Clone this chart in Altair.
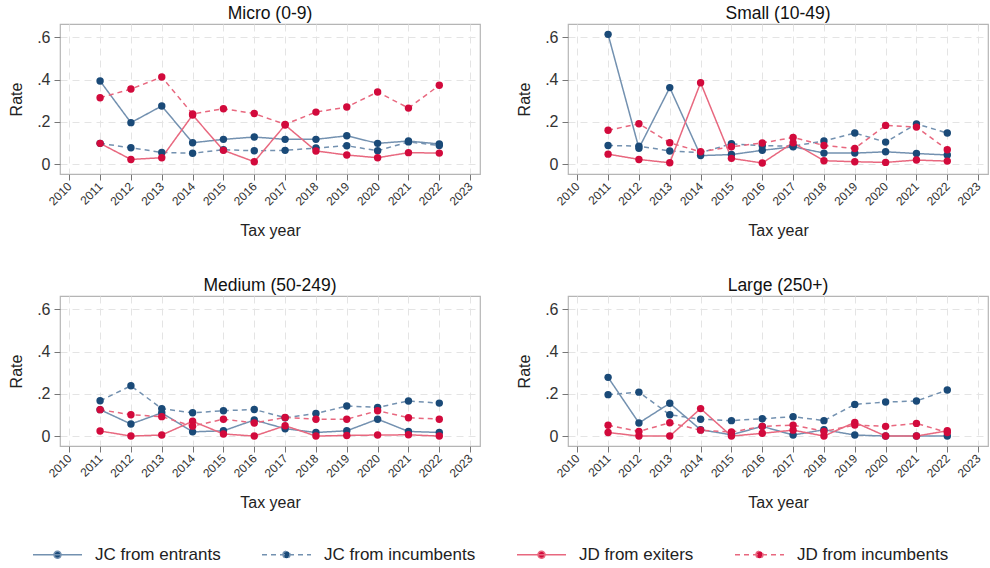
import altair as alt
import pandas as pd

years = list(range(2011, 2023))
panels = ["Micro (0-9)", "Small (10-49)", "Medium (50-249)", "Large (250+)"]
series = ["JC from entrants", "JC from incumbents", "JD from exiters", "JD from incumbents"]

micro_jc_ent = [0.393, 0.196, 0.275, 0.101, 0.117, 0.128, 0.117, 0.117, 0.134, 0.098, 0.109, 0.095]
micro_jc_inc = [0.098, 0.077, 0.055, 0.051, 0.068, 0.063, 0.065, 0.076, 0.087, 0.063, 0.105, 0.088]
micro_jd_exi = [0.098, 0.022, 0.030, 0.232, 0.065, 0.011, 0.185, 0.062, 0.043, 0.030, 0.054, 0.052]
micro_jd_inc = [0.314, 0.355, 0.412, 0.237, 0.262, 0.239, 0.188, 0.246, 0.270, 0.341, 0.265, 0.373]

small_jc_ent = [0.614, 0.075, 0.362, 0.040, 0.045, 0.065, 0.082, 0.052, 0.052, 0.058, 0.050, 0.043]
small_jc_inc = [0.088, 0.085, 0.062, 0.054, 0.096, 0.087, 0.085, 0.109, 0.147, 0.104, 0.190, 0.147]
small_jd_exi = [0.047, 0.022, 0.006, 0.385, 0.027, 0.005, 0.101, 0.016, 0.011, 0.008, 0.019, 0.014]
small_jd_inc = [0.160, 0.191, 0.101, 0.058, 0.082, 0.100, 0.126, 0.088, 0.074, 0.183, 0.175, 0.068]

medium_jc_ent = [0.125, 0.057, 0.110, 0.020, 0.025, 0.076, 0.035, 0.017, 0.025, 0.080, 0.022, 0.017]
medium_jc_inc = [0.167, 0.238, 0.130, 0.110, 0.120, 0.126, 0.087, 0.107, 0.142, 0.136, 0.166, 0.156]
medium_jd_exi = [0.024, 0.000, 0.005, 0.070, 0.010, 0.000, 0.049, 0.000, 0.003, 0.005, 0.006, 0.000]
medium_jd_inc = [0.125, 0.101, 0.092, 0.047, 0.080, 0.062, 0.088, 0.080, 0.080, 0.120, 0.087, 0.080]

large_jc_ent = [0.278, 0.062, 0.155, 0.030, 0.006, 0.046, 0.005, 0.030, 0.005, 0.000, 0.000, 0.000]
large_jc_inc = [0.196, 0.208, 0.101, 0.080, 0.073, 0.082, 0.092, 0.073, 0.150, 0.161, 0.166, 0.218]
large_jd_exi = [0.017, 0.000, 0.000, 0.130, 0.000, 0.013, 0.028, 0.000, 0.065, 0.000, 0.000, 0.025]
large_jd_inc = [0.051, 0.022, 0.063, 0.028, 0.019, 0.046, 0.052, 0.022, 0.052, 0.046, 0.060, 0.017]

values = {
    "Micro (0-9)": [micro_jc_ent, micro_jc_inc, micro_jd_exi, micro_jd_inc],
    "Small (10-49)": [small_jc_ent, small_jc_inc, small_jd_exi, small_jd_inc],
    "Medium (50-249)": [medium_jc_ent, medium_jc_inc, medium_jd_exi, medium_jd_inc],
    "Large (250+)": [large_jc_ent, large_jc_inc, large_jd_exi, large_jd_inc],
}

rows = []
for p in panels:
    for s, vals in zip(series, values[p]):
        for yr, v in zip(years, vals):
            rows.append({"panel": p, "series": s, "year": yr, "value": v})
df = pd.DataFrame(rows)

FONT = "Liberation Sans"
BLUE = "#1a4a78"
RED = "#d20a3c"
colors = [BLUE, BLUE, RED, RED]
line_colors = ["#7391b0", "#7391b0", "#e8687f", "#e8687f"]
dashes = [[1, 0], [5, 4], [1, 0], [5, 4]]

legend = alt.Legend(
    title=None,
    orient="none",
    legendX=-28,
    legendY=522,
    direction="horizontal",
    symbolType="M-3.5,0L3.5,0M-0.5,0A0.5,0.5,0,1,1,0.5,0A0.5,0.5,0,1,1,-0.5,0Z",
    symbolSize=196,
    symbolStrokeWidth=1.5,
    symbolOffset=17,
    symbolOpacity=1,
    labelOffset=29,
    labelFont=FONT,
    labelFontSize=17,
    labelColor="#222222",
    columnPadding=38,
    padding=0,
)

xscale = alt.Scale(domain=[2009.7, 2023.32], nice=False, zero=False)
yscale = alt.Scale(domain=[-0.047, 0.663], nice=False, zero=False)


def panel(name):
    base = alt.Chart(df).transform_filter(alt.datum.panel == name)
    x = alt.X(
        "year:Q",
        scale=xscale,
        axis=alt.Axis(
            values=list(range(2010, 2024)),
            format="d",
            labelAngle=-45,
            labelAlign="right",
            labelBaseline="middle",
            title="Tax year",
            titlePadding=15,
        ),
    )
    y = alt.Y(
        "value:Q",
        scale=yscale,
        axis=alt.Axis(
            values=[0, 0.2, 0.4, 0.6],
            labelExpr="datum.value == 0 ? '0' : replace(format(datum.value, '.1f'), '0.', '.')",
            title="Rate",
            titlePadding=12,
        ),
    )
    stroke = alt.Stroke("series:N", scale=alt.Scale(domain=series, range=line_colors), legend=legend)
    dash = alt.StrokeDash("series:N", scale=alt.Scale(domain=series, range=dashes), legend=legend)
    fill = alt.Fill("series:N", scale=alt.Scale(domain=series, range=colors), legend=legend)
    lines = base.mark_line(strokeWidth=1.5).encode(x=x, y=y, stroke=stroke, strokeDash=dash)
    pts = base.mark_point(filled=True, size=55, opacity=1, strokeWidth=0).encode(x=x, y=y, fill=fill)
    return alt.layer(lines, pts).properties(width=420, height=150, title=name)


row1 = alt.hconcat(panel(panels[0]), panel(panels[1]), spacing=35)
row2 = alt.hconcat(panel(panels[2]), panel(panels[3]), spacing=35)
chart = (
    alt.vconcat(row1, row2, spacing=36)
    .configure(padding={"left": 8, "top": 3, "right": 0, "bottom": 0}, background="white")
    .configure_view(stroke="#b5b5b5", strokeWidth=1.2)
    .configure_axis(
        grid=True,
        gridColor="#e4e4e4",
        gridDash=[7, 5],
        gridWidth=1,
        domain=False,
        tickColor="#777777",
        tickSize=6,
        tickWidth=1,
        labelFont=FONT,
        titleFont=FONT,
        labelColor="#333333",
        titleColor="#222222",
        titleFontWeight="normal",
        titleFontSize=16,
        labelPadding=4,
    )
    .configure_axisY(labelFontSize=16)
    .configure_axisX(labelFontSize=12)
    .configure_title(font=FONT, fontSize=17.5, fontWeight="normal", color="#111111", offset=2)
)

chart.save("out.html", embed_options={"renderer": "svg", "actions": False})
